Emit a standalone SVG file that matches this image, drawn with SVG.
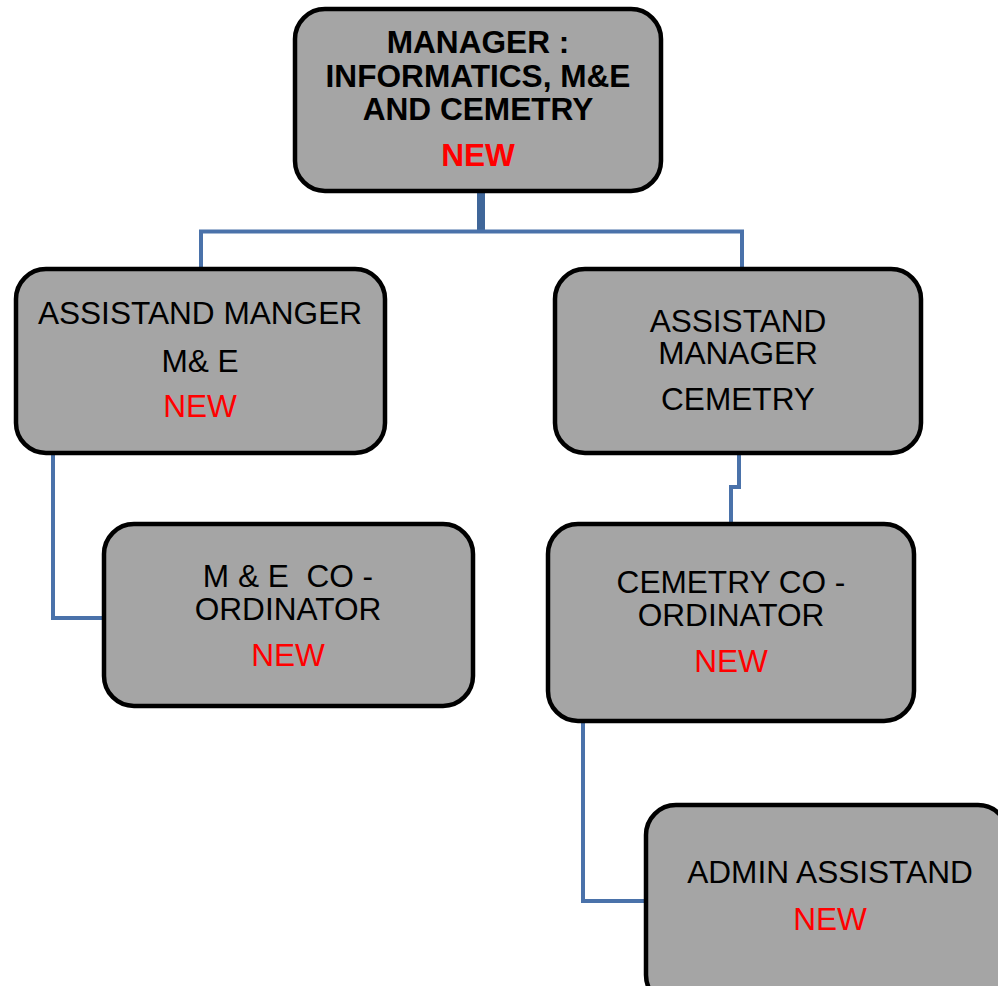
<svg xmlns="http://www.w3.org/2000/svg" width="998" height="986" viewBox="0 0 998 986">
  <style>
    .box { fill: #a5a5a5; stroke: #000; stroke-width: 4.5; }
    .link { fill: none; stroke: #4a72aa; stroke-width: 4; }
    .t { font-family: "Liberation Sans", Arial, sans-serif; font-size: 31.6px; fill: #000; text-anchor: middle; }
    .b { font-weight: bold; font-size: 31.6px; }
    .new { fill: #ff0000; }
  </style>
  <rect width="998" height="986" fill="#fff"/>

  <!-- connectors -->
  <g id="connectors">
    <path class="link" d="M481 192 V231.5" style="stroke-width:8;stroke:#3f6699"/>
    <path class="link" d="M201 268 V231.5 H742 V268"/>
    <path class="link" d="M53 454 V618 H104"/>
    <path class="link" d="M739 454 V487 H731 V523"/>
    <path class="link" d="M583 722 V901 H646"/>
  </g>

  <!-- manager -->
  <g id="manager">
    <rect class="box" x="295" y="9" width="366" height="182" rx="30"/>
    <text class="t b" x="478" y="53">MANAGER :</text>
    <text class="t b" x="478" y="87">INFORMATICS, M&amp;E</text>
    <text class="t b" x="478" y="120">AND CEMETRY</text>
    <text class="t b new" x="478" y="166">NEW</text>
  </g>

  <!-- assistant manager M&E -->
  <g id="asst-me">
    <rect class="box" x="16" y="269" width="369" height="184" rx="30"/>
    <text class="t" x="200" y="324">ASSISTAND MANGER</text>
    <text class="t" x="200" y="372">M&amp; E</text>
    <text class="t new" x="200" y="417">NEW</text>
  </g>

  <!-- assistant manager cemetery -->
  <g id="asst-cemetery">
    <rect class="box" x="555" y="269" width="366" height="184" rx="30"/>
    <text class="t" x="738" y="332">ASSISTAND</text>
    <text class="t" x="738" y="364">MANAGER</text>
    <text class="t" x="738" y="410">CEMETRY</text>
  </g>

  <!-- M&E coordinator -->
  <g id="me-coordinator">
    <rect class="box" x="104" y="524" width="369" height="182" rx="30"/>
    <text class="t" x="288" y="587" xml:space="preserve">M &amp; E  CO -</text>
    <text class="t" x="288" y="620">ORDINATOR</text>
    <text class="t new" x="288" y="666">NEW</text>
  </g>

  <!-- cemetery coordinator -->
  <g id="cemetery-coordinator">
    <rect class="box" x="548" y="524" width="366" height="197" rx="30"/>
    <text class="t" x="731" y="593">CEMETRY CO -</text>
    <text class="t" x="731" y="626">ORDINATOR</text>
    <text class="t new" x="731" y="672">NEW</text>
  </g>

  <!-- admin assistant -->
  <g id="admin-assistant">
    <rect class="box" x="646" y="805" width="362" height="200" rx="30"/>
    <text class="t" x="830" y="883">ADMIN ASSISTAND</text>
    <text class="t new" x="830" y="930">NEW</text>
  </g>
</svg>
